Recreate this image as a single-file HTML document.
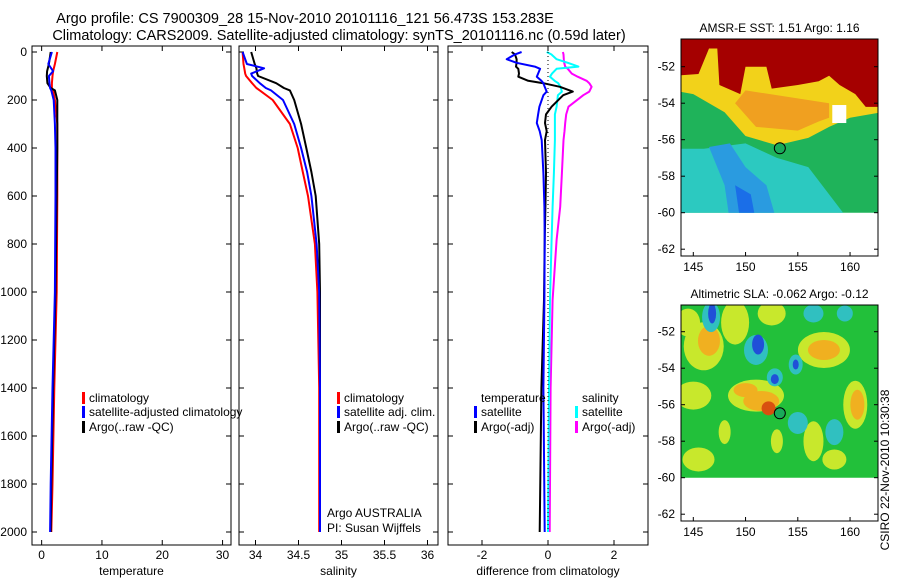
<!DOCTYPE html>
<html><head><meta charset="utf-8"><style>
html,body{margin:0;padding:0;background:#fff;}
svg{display:block;font-family:"Liberation Sans",sans-serif;}
text{font-size:12px;fill:#000;}
</style></head><body>
<svg id="chart" width="900" height="580" viewBox="0 0 900 580" xmlns="http://www.w3.org/2000/svg">
<text x="305" y="23" text-anchor="middle" style="font-size:14.5px">Argo profile: CS 7900309_28 15-Nov-2010 20101116_121 56.473S 153.283E</text>
<text x="339" y="40" text-anchor="middle" style="font-size:14.5px">Climatology: CARS2009. Satellite-adjusted climatology: synTS_20101116.nc (0.59d later)</text>
<g id="panels"></g>
<g id="maps"></g>
<text transform="translate(889,470) rotate(-90)" text-anchor="middle">CSIRO 22-Nov-2010 10:30:38</text>
</svg>
<script>
// ---- data ----
const depthTicks = [0,200,400,600,800,1000,1200,1400,1600,1800,2000];
const tDepth = [0,50,80,100,130,150,160,200,300,400,600,1000,1400,1800,2000];
const tClim  = [2.6,2.2,1.9,1.8,1.7,1.7,1.9,2.2,2.6,2.6,2.6,2.5,2.1,1.8,1.6];
const tSat   = [1.7,1.1,1.9,1.2,1.3,1.4,1.6,2.0,2.2,2.3,2.3,2.2,1.8,1.5,1.4];
const tArgo  = [1.5,1.2,0.9,0.85,0.95,1.5,2.2,2.6,2.6,2.6,2.5,2.3,1.9,1.6,1.5];
const tTicks = [0,10,20,30];
const sDepth = [0,50,68,90,100,130,150,160,200,300,400,500,600,800,1000,1400,2000];
const sClim  = [33.85,33.86,33.87,33.88,33.89,33.96,34.01,34.05,34.2,34.4,34.49,34.55,34.61,34.69,34.72,34.74,34.74];
const sSat   = [33.85,33.9,34.1,33.95,33.96,34.05,34.12,34.18,34.32,34.45,34.53,34.6,34.65,34.71,34.74,34.75,34.75];
const sArgo  = [33.95,33.99,34.01,34.02,34.03,34.24,34.33,34.4,34.45,34.53,34.59,34.65,34.7,34.74,34.75,34.75,34.75];
const sTicks = [34,34.5,35,35.5,36];
const dDepth = [0,10,30,45,61,70,90,103,120,130,145,165,180,228,260,296,330,367,505,645,783,1033,1400,2000];
const dTsat  = [-0.8,-1.0,-1.25,-0.95,-0.4,-0.24,-0.3,-0.34,-0.2,-0.14,-0.1,-0.04,-0.14,-0.26,-0.3,-0.34,-0.25,-0.19,-0.14,-0.11,-0.1,-0.11,-0.14,-0.1];
const dTargo = [-1.1,-1.0,-0.95,-0.95,-0.97,-0.9,-0.88,-0.9,-0.6,-0.14,0.36,0.75,0.46,0.11,-0.06,-0.09,-0.04,-0.09,-0.06,-0.08,-0.1,-0.12,-0.2,-0.25];
const dSsat  = [-0.04,0.1,0.26,0.6,0.92,0.26,0.12,0.06,0.2,0.31,0.38,0.42,0.3,0.26,0.21,0.21,0.21,0.21,0.18,0.14,0.11,0.06,0.03,0.0];
const dSargo = [0.45,0.47,0.48,0.49,0.52,0.6,0.72,0.9,1.17,1.25,1.32,1.25,1.07,0.62,0.55,0.52,0.5,0.47,0.42,0.37,0.26,0.14,0.08,0.05];
const dTicks = [-2,0,2];

const svg = document.getElementById('chart');
const NS = 'http://www.w3.org/2000/svg';
function mk(tag, attrs, parent){ const e=document.createElementNS(NS,tag); for(const k in attrs) e.setAttribute(k,attrs[k]); (parent||svg).appendChild(e); return e; }
const yTop=52, yScale=0.24, frameTop=46, frameBot=545;
const yD = d => yTop + d*yScale;

function panel(name, x0, x1, vmin, vmax, ticks, tickFmt, title, series, leftLabels){
  const g = mk('g',{});
  
  
  const xv = v => x0 + (v - vmin)/(vmax - vmin)*(x1 - x0);
  const fr = mk('rect',{x:x0,y:frameTop,width:x1-x0,height:frameBot-frameTop,fill:'none',stroke:'#000','stroke-width':1},g);
  
  
  depthTicks.forEach(d=>{
    mk('line',{x1:x0,x2:x0+5,y1:yD(d),y2:yD(d),stroke:'#000'},g);
    mk('line',{x1:x1-5,x2:x1,y1:yD(d),y2:yD(d),stroke:'#000'},g);
    if(leftLabels){ const t=mk('text',{x:x0-5,y:yD(d)+4,'text-anchor':'end'},g); t.textContent=d;
      
       }
  });
  ticks.forEach(v=>{
    const x=xv(v);
    mk('line',{x1:x,x2:x,y1:frameBot,y2:frameBot-5,stroke:'#000'},g);
    mk('line',{x1:x,x2:x,y1:frameTop,y2:frameTop+5,stroke:'#000'},g);
    const t=mk('text',{x:x,y:559,'text-anchor':'middle'},g); t.textContent=tickFmt(v);
    
    
  });
  const at=mk('text',{x:(x0+x1)/2,y:575,'text-anchor':'middle'},g); at.textContent=title;
  
  
  series.forEach(s=>{
    const pts = s.depth.map((d,i)=>xv(s.vals[i]).toFixed(1)+','+yD(d).toFixed(1)).join(' ');
    const p=mk('polyline',{points:pts,fill:'none',stroke:s.color,'stroke-width':2,'stroke-linejoin':'round'},g);
    
    
  });
  return {g,xv};
}
const p1 = panel('temperature-panel',32,231,-1.6,31.4,tTicks,v=>v,'temperature',[
  {name:'temp-climatology-line',depth:tDepth,vals:tClim,color:'#f00'},
  {name:'temp-argo-line',depth:tDepth,vals:tArgo,color:'#000'},
  {name:'temp-satellite-line',depth:tDepth,vals:tSat,color:'#00f'}],true);
const p2 = panel('salinity-panel',239,438,33.808,36.122,sTicks,v=>v,'salinity',[
  {name:'sal-climatology-line',depth:sDepth,vals:sClim,color:'#f00'},
  {name:'sal-argo-line',depth:sDepth,vals:sArgo,color:'#000'},
  {name:'sal-satellite-line',depth:sDepth,vals:sSat,color:'#00f'}],false);
const p3 = panel('difference-panel',448,648,-3.03,3.03,dTicks,v=>v,'difference from climatology',[
  {name:'diff-sal-argo-line',depth:dDepth,vals:dSargo,color:'#f0f'},
  {name:'diff-sal-satellite-line',depth:dDepth,vals:dSsat,color:'#0ff'},
  {name:'diff-temp-argo-line',depth:dDepth,vals:dTargo,color:'#000'},
  {name:'diff-temp-satellite-line',depth:dDepth,vals:dTsat,color:'#00f'}],false);
const zl=mk('line',{x1:p3.xv(0),x2:p3.xv(0),y1:yD(0),y2:yD(2000),stroke:'#000','stroke-dasharray':'1,3'},p3.g);



function legendEntry(parent,x,y,color,label){
  const g=mk('g',{},parent);
  
  
  if(color) mk('rect',{x:x,y:y-10,width:3,height:12,fill:color},g);
  const t=mk('text',{x:x+7,y:y},g); t.textContent=label;
}
legendEntry(p1.g,82,402,'#f00','climatology');
legendEntry(p1.g,82,416,'#00f','satellite-adjusted climatology');
legendEntry(p1.g,82,431,'#000','Argo(..raw -QC)');
legendEntry(p2.g,337,402,'#f00','climatology');
legendEntry(p2.g,337,416,'#00f','satellite adj. clim.');
legendEntry(p2.g,337,431,'#000','Argo(..raw -QC)');
legendEntry(p3.g,474,402,null,'temperature');
legendEntry(p3.g,474,416,'#00f','satellite');
legendEntry(p3.g,474,431,'#000','Argo(-adj)');
legendEntry(p3.g,575,402,null,'salinity');
legendEntry(p3.g,575,416,'#0ff','satellite');
legendEntry(p3.g,575,431,'#f0f','Argo(-adj)');
const n1=mk('text',{x:327,y:517},p2.g); n1.textContent='Argo AUSTRALIA';
 
const n2=mk('text',{x:327,y:532},p2.g); n2.textContent='PI: Susan Wijffels';
 

// ---- maps ----
const lonTicks=[145,150,155,160];
const latTicks=[-52,-54,-56,-58,-60,-62];
const floatLon=153.28, floatLat=-56.47;
function map(name, top, bottom, lat52y, title, drawField){
  const g=mk('g',{},document.getElementById('maps'));
  
  
  const x0=681,x1=878;
  const lx = lon => 693.3 + (lon-145)*10.45;
  const ly = lat => lat52y + (-52-lat)*18.25;
  const clip='clip-'+name;
  const cp=mk('clipPath',{id:clip},g); mk('rect',{x:x0,y:top,width:x1-x0,height:ly(-60)-top},cp);
  const fg=mk('g',{'clip-path':'url(#'+clip+')'},g);
  drawField(fg,lx,ly,x0,x1,top);
  const fr=mk('rect',{x:x0,y:top,width:x1-x0,height:bottom-top,fill:'none',stroke:'#000'},g);
  latTicks.forEach(l=>{ mk('line',{x1:x0,x2:x0+4,y1:ly(l),y2:ly(l),stroke:'#000'},g); mk('line',{x1:x1-4,x2:x1,y1:ly(l),y2:ly(l),stroke:'#000'},g);
    const t=mk('text',{x:x0-6,y:ly(l)+4,'text-anchor':'end'},g); t.textContent=l;
      });
  lonTicks.forEach(l=>{ mk('line',{x1:lx(l),x2:lx(l),y1:bottom,y2:bottom-4,stroke:'#000'},g);
    const t=mk('text',{x:lx(l),y:bottom+15,'text-anchor':'middle'},g); t.textContent=l;
      });
  const tt=mk('text',{x:(x0+x1)/2,y:top-7,'text-anchor':'middle'},g); tt.textContent=title;
   
  const c=mk('circle',{cx:lx(floatLon),cy:ly(floatLat),r:5.5,fill:'#1aaa5a',stroke:'#000'},g);
   
}
function poly(g,pts,fill,lx,ly){ mk('polygon',{points:pts.map(p=>lx(p[0]).toFixed(1)+','+ly(p[1]).toFixed(1)).join(' '),fill:fill},g); }
function ell(g,lon,lat,rx,ry,fill,lx,ly){ mk('ellipse',{cx:lx(lon),cy:ly(lat),rx:rx,ry:ry,fill:fill},g); }

map('sst-map',39,256,66.7,'AMSR-E SST: 1.51  Argo: 1.16',(g,lx,ly,x0,x1,top)=>{
  mk('rect',{x:x0,y:top,width:x1-x0,height:240,fill:'#1fb35a'},g);
  poly(g,[[143,-56.5],[146,-56.5],[150,-56.2],[153,-57],[156,-57.5],[158,-59],[160,-60.5],[143,-60.5]],'#2cc9c0',lx,ly);
  poly(g,[[146.5,-56.4],[148.5,-56.2],[150,-57.5],[152,-58.5],[153,-60.5],[148.5,-60.5],[148,-58.5]],'#2a9be0',lx,ly);
  poly(g,[[149,-58.5],[150.5,-59],[151,-60.5],[149.5,-60.5]],'#1a6ee8',lx,ly);
  poly(g,[[145,-53.5],[148,-54.5],[150,-55.8],[153,-56.3],[156,-55.9],[158,-55.3],[160,-54.8],[163,-54.5],[163,-50],[143,-50],[143,-53.3]],'#f2d21a',lx,ly);
  poly(g,[[149,-54],[151,-55.3],[155,-55.5],[157,-55],[158,-54.8],[158,-54],[150,-53.3]],'#f0a020',lx,ly);
  poly(g,[[143,-52.5],[145.5,-52.4],[146.5,-51],[147.3,-51],[147.5,-53],[149.5,-53.5],[150,-52],[152,-52],[152.5,-53.2],[155,-53],[157,-52.8],[158,-52.5],[159,-53],[160.5,-53.5],[161.5,-54.2],[163,-54.2],[163,-50],[143,-50]],'#a50000',lx,ly);
  mk('rect',{x:lx(158.3),y:ly(-54.1),width:14,height:18,fill:'#fff'},g);
});
map('sla-map',305,521,331.7,'Altimetric SLA: -0.062  Argo: -0.12',(g,lx,ly,x0,x1,top)=>{
  mk('rect',{x:x0,y:top,width:x1-x0,height:240,fill:'#22c03a'},g);
  [[144.5,-51.5,12,14],[146,-52.8,20,24],[149,-51.5,14,22],[152.5,-51,14,12],[157.5,-53,26,18],[145,-55.5,18,14],[151,-55.5,28,16],[160.5,-56,12,24],[156.5,-58,10,20],[145.5,-59,16,12],[153,-58,6,12],[158.5,-59,12,10],[148,-57.5,6,12]].forEach(e=>ell(g,e[0],e[1],e[2],e[3],'#c8e82c',lx,ly));
  [[146.5,-52.5,11,15],[157.5,-53,16,10],[151.5,-55.8,18,10],[160.7,-56,7,15],[150,-55.2,12,7]].forEach(e=>ell(g,e[0],e[1],e[2],e[3],'#f0b020',lx,ly));
  ell(g,152.2,-56.2,7,7,'#d85010',lx,ly);
  [[146.7,-51.2,9,15],[151,-53,12,15],[154.8,-53.8,7,10],[152.8,-54.5,8,9],[155,-57,10,11],[158.5,-57.5,9,13],[156.5,-51,10,9],[159.5,-51,8,8]].forEach(e=>ell(g,e[0],e[1],e[2],e[3],'#30c0c0',lx,ly));
  [[146.8,-51,4,10],[151.2,-52.7,6,10],[154.8,-53.8,3,5],[152.8,-54.6,4,5]].forEach(e=>ell(g,e[0],e[1],e[2],e[3],'#2050d8',lx,ly));
});
</script>
</body></html>
